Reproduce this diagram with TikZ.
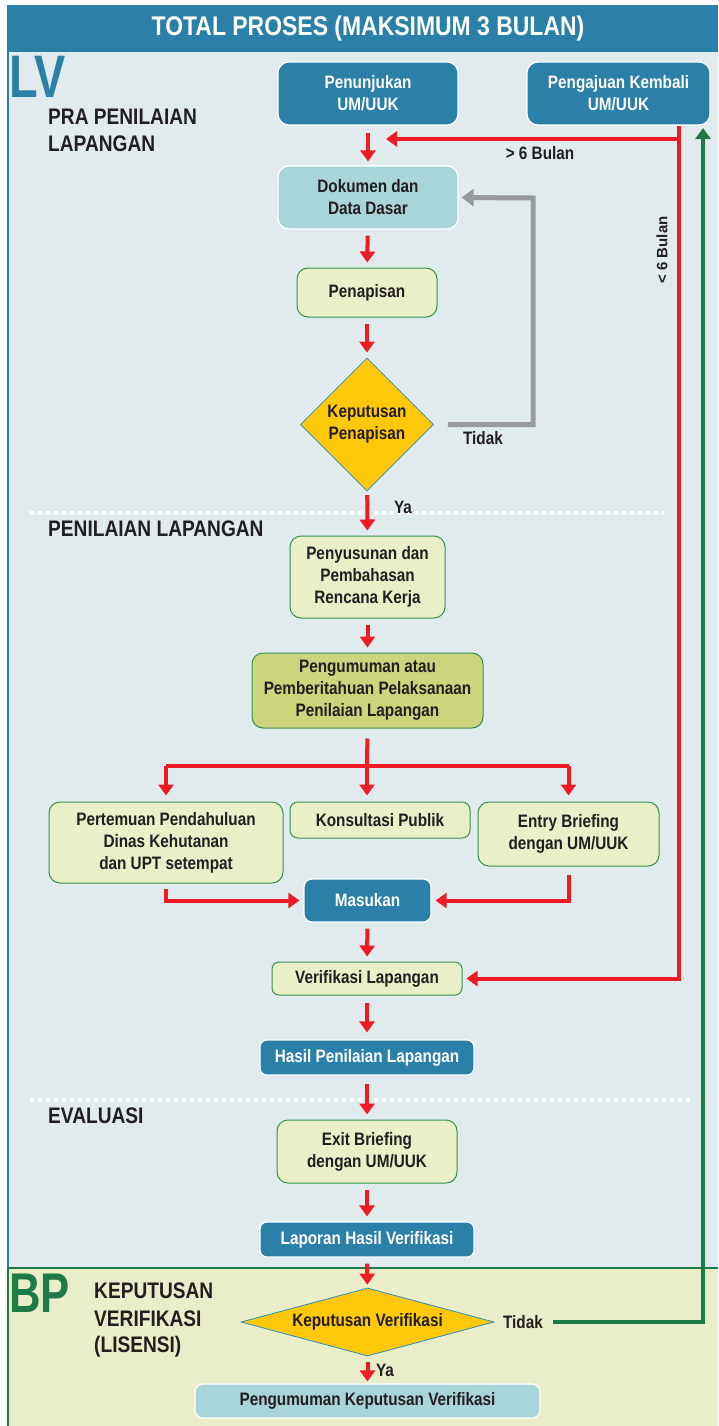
\documentclass[tikz,border=0pt]{standalone}
\usepackage{fontspec}
\setmainfont{Liberation Sans}[FakeStretch=0.85]
\newfontfamily\widefont{Liberation Sans}
\newfontfamily\bigfont{Liberation Sans}[FakeStretch=0.78]
\usetikzlibrary{arrows.meta,shapes.geometric}
\definecolor{hblue}{RGB}{42,128,166}
\definecolor{panelbg}{RGB}{225,235,238}
\definecolor{bpbg}{RGB}{234,238,200}
\definecolor{dgreen}{RGB}{30,122,70}
\definecolor{ared}{RGB}{237,28,36}
\definecolor{agray}{RGB}{153,154,158}
\definecolor{lteal}{RGB}{168,213,215}
\definecolor{lyel}{RGB}{233,239,198}
\definecolor{olive}{RGB}{204,212,124}
\definecolor{gold}{RGB}{255,200,10}
\definecolor{dblue}{RGB}{43,143,192}
\definecolor{bgreen}{RGB}{58,143,78}
\definecolor{txt}{RGB}{35,31,32}
\begin{document}
\begin{tikzpicture}[x=1pt,y=-1pt,
 box/.style={rectangle, rounded corners=11pt, align=center, inner sep=0pt, font=\fontsize{18}{22}\selectfont\bfseries, text=txt},
 bbox/.style={box, fill=hblue, draw=white, line width=1.2pt, text=white},
 tbox/.style={box, fill=lteal, draw=white, line width=1.2pt},
 ybox/.style={box, fill=lyel, draw=bgreen, line width=1pt},
 obox/.style={box, fill=olive, draw=bgreen, line width=1pt},
 dia/.style={diamond, fill=gold, draw=dblue, line width=0.8pt, inner sep=0pt, align=center, font=\fontsize{18}{22}\selectfont\bfseries, text=txt},
 redline/.style={draw=ared, line width=4pt},
 arr/.style={redline, -{Triangle[width=15pt,length=11pt]}},
 sarr/.style={arr, shorten <=6pt, shorten >=5pt},
 garr/.style={draw=dgreen, line width=4pt, -{Triangle[width=15pt,length=11pt]}},
 grarr/.style={draw=agray, line width=5pt, -{Triangle[width=17pt,length=12pt]}},
 lbl/.style={font=\fontsize{18}{22}\selectfont\bfseries, text=txt, inner sep=0pt},
 sec/.style={font=\fontsize{22.5}{27}\selectfont\bfseries, text=txt, inner sep=0pt, anchor=west},
]
\useasboundingbox (0,0) rectangle (718,1426);
% panels
\fill[panelbg] (7,52) rectangle (718,1268);
\fill[bpbg] (7,1268) rectangle (718,1426);
\draw[hblue, line width=2pt] (8,52) -- (8,1268);
\draw[dgreen, line width=2pt] (8,1268) -- (8,1426);
\draw[dgreen, line width=2.5pt] (7,1268) -- (718,1268);
\node[anchor=base west, inner sep=0pt, text=hblue, font=\bigfont\fontsize{60}{60}\selectfont\bfseries] (lv) at (9,98) {LV};
\node[anchor=base west, inner sep=0pt, text=dgreen, font=\bigfont\fontsize{56}{56}\selectfont\bfseries] (bp) at (9,1312) {BP};
\fill[hblue] (7,5) rectangle (718,52);
\node[text=white, font=\fontsize{27}{30}\selectfont\bfseries, inner sep=0pt] (title) at (368,29) {TOTAL PROSES (MAKSIMUM 3 BULAN)};
% dotted separators
\draw[white, line width=4pt, dash pattern=on 4pt off 4pt] (30,513) -- (664,513);
\draw[white, line width=4pt, dash pattern=on 4pt off 4pt] (30,1100) -- (690,1100);
% section labels
\node[sec] (s1a) at (48,117) {PRA PENILAIAN};
\node[sec] (s1b) at (48,144) {LAPANGAN};
\node[sec] (s2) at (48,529) {PENILAIAN LAPANGAN};
\node[sec] (s3) at (48,1116) {EVALUASI};
\node[sec] (s4a) at (94,1291) {KEPUTUSAN};
\node[sec] (s4b) at (94,1319) {VERIFIKASI};
\node[sec] (s4c) at (94,1347) {(LISENSI)};
% nodes
\node[bbox, minimum width=180pt, minimum height=63pt] (pen) at (368,93.5) {Penunjukan\\UM/UUK};
\node[bbox, minimum width=183pt, minimum height=63pt] (peng) at (618.5,93.5) {Pengajuan Kembali\\UM/UUK};
\node[tbox, minimum width=180pt, minimum height=63pt] (dok) at (368,197.5) {Dokumen dan\\Data Dasar};
\node[ybox, minimum width=140pt, minimum height=49pt] (pnp) at (367,292.5) {Penapisan};
\node[dia, aspect=1, minimum width=133pt, minimum height=133pt] (kp) at (367,424.5) {Keputusan\\Penapisan};
\node[ybox, minimum width=155pt, minimum height=82pt] (pys) at (367.5,577) {Penyusunan dan\\Pembahasan\\Rencana Kerja};
\node[obox, minimum width=231pt, minimum height=75pt] (pgm) at (367.5,690.5) {Pengumuman atau\\Pemberitahuan Pelaksanaan\\Penilaian Lapangan};
\node[ybox, minimum width=234pt, minimum height=81pt] (prt) at (166,842.5) {Pertemuan Pendahuluan\\Dinas Kehutanan\\dan UPT setempat};
\node[ybox, minimum width=180pt, minimum height=36pt, rounded corners=8pt] (kon) at (380,820) {Konsultasi Publik};
\node[ybox, minimum width=181pt, minimum height=64pt] (ent) at (568.5,834) {Entry Briefing\\dengan UM/UUK};
\node[bbox, minimum width=127pt, minimum height=43pt, rounded corners=8pt] (mas) at (367.5,900.5) {Masukan};
\node[ybox, minimum width=190pt, minimum height=33pt, rounded corners=7pt] (ver) at (367,978.5) {Verifikasi Lapangan};
\node[bbox, minimum width=214pt, minimum height=35pt, rounded corners=7pt] (has) at (367,1057.5) {Hasil Penilaian Lapangan};
\node[ybox, minimum width=180pt, minimum height=63pt] (exi) at (367,1151.5) {Exit Briefing\\dengan UM/UUK};
\node[bbox, minimum width=214pt, minimum height=35pt, rounded corners=7pt] (lap) at (367,1239.5) {Laporan Hasil Verifikasi};
\node[dia, aspect=3.72, minimum width=253pt, minimum height=68pt] (kv) at (367.5,1322) {Keputusan Verifikasi};
\node[tbox, minimum width=345pt, minimum height=34pt, rounded corners=8pt] (pkv) at (367.5,1401) {Pengumuman Keputusan Verifikasi};
% labels
\node[lbl] (gt6) at (540,153) {> 6 Bulan};
\node[lbl, font=\widefont\fontsize{15}{18}\selectfont\bfseries, rotate=90] (lt6) at (662,250) {< 6 Bulan};
\node[lbl] (tid1) at (483,438) {Tidak};
\node[lbl] (ya1) at (403,507) {Ya};
\node[lbl] (ya2) at (385,1370) {Ya};
\node[lbl] (tid2) at (523,1322) {Tidak};
% coordinates
\coordinate (rt) at (679,126);
\coordinate (rb) at (679,139);
\coordinate (rbend) at (386,139);
\coordinate (gtop) at (703,128);
\coordinate (gc) at (533,198);
\coordinate (jn) at (367,766);
% arrows
\draw[sarr, shorten <=7pt, shorten >=4pt] (pen) -- (dok);
\draw[sarr] (dok) -- (pnp);
\draw[sarr] (pnp) -- (kp);
\draw[sarr, shorten <=4pt] (kp) -- (pys);
\draw[sarr] (pys) -- (pgm);
\draw[redline, shorten <=10pt] (pgm.south) -- (jn);
\draw[redline] (prt.north |- jn) -- (ent.north |- jn);
\draw[arr, shorten >=6pt] (prt.north |- jn) -- (prt.north);
\draw[arr, shorten >=6pt] (jn) -- (jn |- kon.north);
\draw[arr, shorten >=6pt] (ent.north |- jn) -- (ent.north);
\draw[arr, shorten <=5pt, shorten >=4pt] (prt.south) |- (mas.west);
\draw[arr, shorten <=8pt, shorten >=4pt] (ent.south) |- (mas.east);
\draw[sarr] (mas) -- (ver);
\draw[sarr, shorten <=7pt, shorten >=7pt] (ver) -- (has);
\draw[sarr, shorten <=8pt] (has) -- (exi);
\draw[sarr] (exi) -- (lap);
\draw[sarr, shorten >=3pt] (lap) -- (kv);
\draw[sarr, shorten >=2pt] (kv) -- (pkv);
\draw[arr, shorten >=4pt] (rt) |- (ver.east);
\draw[arr] (rb) -- (rbend);
\draw[garr, shorten <=10pt] (tid2.east) -| (gtop);
\draw[grarr, shorten <=14pt, shorten >=3pt] (kp.east) -| (gc) -- (dok.east);
\end{tikzpicture}
\end{document}
